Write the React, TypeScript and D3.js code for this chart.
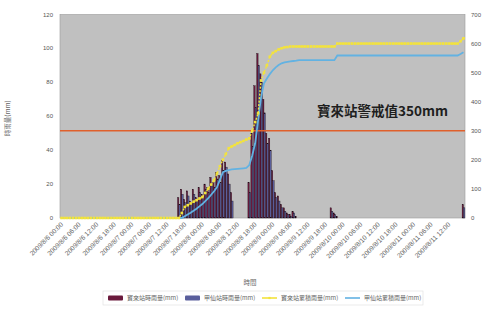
import React from "react";
import * as d3 from "d3";

const W = 487;
const H = 310;

// hourly categories (index of hour from 2009/8/6 00:00)
const hours: number[] = d3.range(138);

const tickLabels: string[] = [
  "2009/8/6 00:00", "2009/8/6 06:00", "2009/8/6 12:00", "2009/8/6 18:00",
  "2009/8/7 00:00", "2009/8/7 06:00", "2009/8/7 12:00", "2009/8/7 18:00",
  "2009/8/8 00:00", "2009/8/8 06:00", "2009/8/8 12:00", "2009/8/8 18:00",
  "2009/8/9 00:00", "2009/8/9 06:00", "2009/8/9 12:00", "2009/8/9 18:00",
  "2009/8/10 00:00", "2009/8/10 06:00", "2009/8/10 12:00", "2009/8/10 18:00",
  "2009/8/11 00:00", "2009/8/11 06:00", "2009/8/11 12:00",
];

const leftTicks = [0, 20, 40, 60, 80, 100, 120];
const rightTicks = [0, 100, 200, 300, 400, 500, 600, 700];

const seriesNames = ["寶來站時雨量(mm)", "甲仙站時雨量(mm)", "寶來站累積雨量(mm)", "甲仙站累積雨量(mm)"];

const rainA: number[] = [
  0, 0, 0, 0, 0, 0, 0, 0, 0, 0,
  0, 0, 0, 0, 0, 0, 0, 0, 0, 0,
  0, 0, 0, 0, 0, 0, 0, 0, 0, 0,
  0, 0, 0, 0, 0, 0, 0, 0, 0, 0,
  12, 17, 11, 16, 10, 17, 12, 18, 14, 20,
  18, 24, 21, 27, 25, 34, 33, 26, 15, 0,
  0, 0, 0, 0, 21, 50, 78, 97, 85, 70,
  50, 47, 28, 15, 13, 8, 6, 3, 2, 4,
  1, 0, 0, 0, 0, 0, 0, 0, 0, 0,
  0, 0, 6, 3, 1, 0, 0, 0, 0, 0,
  0, 0, 0, 0, 0, 0, 0, 0, 0, 0,
  0, 0, 0, 0, 0, 0, 0, 0, 0, 0,
  0, 0, 0, 0, 0, 0, 0, 0, 0, 0,
  0, 0, 0, 0, 0, 0, 0, 8,
];

const rainB: number[] = [
  0, 0, 0, 0, 0, 0, 0, 0, 0, 0,
  0, 0, 0, 0, 0, 0, 0, 0, 0, 0,
  0, 0, 0, 0, 0, 0, 0, 0, 0, 0,
  0, 0, 0, 0, 0, 0, 0, 0, 0, 0,
  8, 14, 9, 13, 9, 14, 10, 15, 12, 17,
  15, 20, 18, 23, 21, 28, 30, 20, 10, 0,
  0, 0, 0, 0, 15, 42, 65, 90, 80, 62,
  44, 40, 22, 12, 10, 6, 4, 2, 1, 3,
  0, 0, 0, 0, 0, 0, 0, 0, 0, 0,
  0, 0, 4, 2, 0, 0, 0, 0, 0, 0,
  0, 0, 0, 0, 0, 0, 0, 0, 0, 0,
  0, 0, 0, 0, 0, 0, 0, 0, 0, 0,
  0, 0, 0, 0, 0, 0, 0, 0, 0, 0,
  0, 0, 0, 0, 0, 0, 0, 6,
];

const cumA: number[] = [
  0, 0, 0, 0, 0, 0, 0, 0, 0, 0,
  0, 0, 0, 0, 0, 0, 0, 0, 0, 0,
  0, 0, 0, 0, 0, 0, 0, 0, 0, 0,
  0, 0, 0, 0, 0, 0, 0, 0, 0, 0,
  0, 17, 38, 44, 50, 56, 61, 67, 72, 86,
  101, 115, 130, 153, 178, 200, 220, 240, 246, 251,
  257, 261, 265, 270, 274, 300, 330, 360, 473, 500,
  525, 555, 568, 574, 580, 584, 587, 588, 590, 590,
  590, 590, 590, 590, 590, 590, 590, 590, 590, 590,
  590, 590, 590, 590, 600, 600, 600, 600, 600, 600,
  600, 600, 600, 600, 600, 600, 600, 600, 600, 600,
  600, 600, 600, 600, 600, 600, 600, 600, 600, 600,
  600, 600, 600, 600, 600, 600, 600, 600, 600, 600,
  600, 600, 600, 600, 600, 600, 608, 618,
];

const cumB: number[] = [
  0, 0, 0, 0, 0, 0, 0, 0, 0, 0,
  0, 0, 0, 0, 0, 0, 0, 0, 0, 0,
  0, 0, 0, 0, 0, 0, 0, 0, 0, 0,
  0, 0, 0, 0, 0, 0, 0, 0, 0, 0,
  0, 0, 6, 12, 18, 25, 32, 40, 48, 58,
  68, 80, 92, 106, 132, 158, 162, 165, 167, 168,
  169, 170, 171, 172, 182, 215, 257, 336, 415, 463,
  480, 495, 508, 518, 526, 532, 535, 537, 539, 540,
  541, 543, 543, 543, 543, 543, 543, 543, 543, 543,
  543, 543, 543, 543, 559, 559, 559, 559, 559, 559,
  559, 559, 559, 559, 559, 559, 559, 559, 559, 559,
  559, 559, 559, 559, 559, 559, 559, 559, 559, 559,
  559, 559, 559, 559, 559, 559, 559, 559, 559, 559,
  559, 559, 559, 559, 559, 559, 564, 570,
];

const warningValue = 300; // drawn on right axis
const warningLabel = "寶來站警戒值350mm";

const colA = "#6a1a3c";
const colB = "#5a5f9c";
const colYellow = "#f3e33c";
const colBlue = "#62b2e2";
const colWarn = "#e0602c";

const PL = 60, PR = 465, PT = 14.5, PB = 218;

export default function App() {
  const x = d3.scaleBand<number>().domain(hours).range([PL, PR]).paddingInner(0.05).paddingOuter(0.04);
  const yL = d3.scaleLinear().domain([0, 120]).range([PB, PT]);
  const yR = d3.scaleLinear().domain([0, 700]).range([PB, PT]);
  const bw = x.bandwidth() / 2;
  const cx = (i: number) => (x(i) as number) + x.bandwidth() / 2;

  const lineA = d3.line<number>().x((_, i) => cx(i)).y((d) => yR(d));
  const lineB = d3.line<number>().x((_, i) => cx(i)).y((d) => yR(d));

  const tickFont = "'Liberation Sans', Arial, sans-serif";
  const cjkFont = "'Noto Sans CJK TC', 'Noto Sans', sans-serif";

  const legendY = 298;
  const legendItems = [
    { x: 108, type: "rect", color: colA },
    { x: 185, type: "rect", color: colB },
    { x: 262, type: "line", color: colYellow },
    { x: 345, type: "line", color: colBlue },
  ];

  return (
    <svg width={W} height={H} style={{ position: "absolute", left: 0, top: 0, background: "#fff" }}>
      <rect x={PL} y={PT} width={PR - PL} height={PB - PT} fill="#c0c0c0" stroke="#9a9a9a" strokeWidth={0.6} />

      {/* bars */}
      {rainA.map((v, i) =>
        v > 0 ? <rect key={"a" + i} x={x(i)} y={yL(v)} width={bw} height={yL(0) - yL(v)} fill={colA} stroke="#1a0a14" strokeWidth={0.35} /> : null
      )}
      {rainB.map((v, i) =>
        v > 0 ? <rect key={"b" + i} x={(x(i) as number) + bw} y={yL(v)} width={bw} height={yL(0) - yL(v)} fill={colB} stroke="#1a0a14" strokeWidth={0.35} /> : null
      )}

      {/* warning line */}
      <line x1={PL} x2={PR} y1={yR(warningValue)} y2={yR(warningValue)} stroke={colWarn} strokeWidth={1.4} />
      <text x={317} y={116} fontFamily={cjkFont} fontSize={13.5} fontWeight={700} fill="#1e1e1e">{warningLabel}</text>

      {/* cumulative lines */}
      <path d={lineB(cumB) || ""} fill="none" stroke={colBlue} strokeWidth={1.8} />
      <path d={lineA(cumA) || ""} fill="none" stroke={colYellow} strokeWidth={1.4} strokeDasharray="2,1.5" />
      {cumA.map((v, i) => (
        <rect key={"m" + i} x={cx(i) - 1.3} y={yR(v) - 1.3} width={2.6} height={2.6} fill={colYellow} />
      ))}

      {/* left axis */}
      {leftTicks.map((t) => (
        <text key={"l" + t} x={53} y={yL(t) + 2} textAnchor="end" fontFamily={tickFont} fontSize={6} fill="#555">{t}</text>
      ))}
      <text transform={`translate(10,${(PT + PB) / 2 + 2}) rotate(-90)`} textAnchor="middle" fontFamily={cjkFont} fontSize={6.5} fill="#666">時雨量(mm)</text>

      {/* right axis */}
      {rightTicks.map((t) => (
        <text key={"r" + t} x={471} y={yR(t) + 2} textAnchor="start" fontFamily={tickFont} fontSize={6} fill="#555">{t}</text>
      ))}

      {/* x labels */}
      {tickLabels.map((lab, k) => {
        const px = cx(k * 6);
        return (
          <text key={"x" + k} transform={`translate(${px + 2},${PB + 7}) rotate(-45)`} textAnchor="end" fontFamily={tickFont} fontSize={6.6} fill="#666">{lab}</text>
        );
      })}
      <text x={250} y={285} textAnchor="middle" fontFamily={cjkFont} fontSize={6.5} fill="#666">時間</text>

      {/* legend */}
      <rect x={103} y={291} width={320} height={14} fill="#fff" stroke="#ddd" strokeWidth={0.6} />
      {legendItems.map((it, k) => (
        <g key={"lg" + k}>
          {it.type === "rect" ? (
            <rect x={it.x} y={legendY - 2.5} width={15} height={5} fill={it.color} rx={1} />
          ) : (
            <g>
              <line x1={it.x} x2={it.x + 15} y1={legendY} y2={legendY} stroke={it.color} strokeWidth={1.6} />
              {k === 2 ? <rect x={it.x + 6.4} y={legendY - 1.1} width={2.2} height={2.2} fill={it.color} /> : null}
            </g>
          )}
          <text x={it.x + 19} y={legendY + 2.2} fontFamily={cjkFont} fontSize={6} fill="#666">{seriesNames[k]}</text>
        </g>
      ))}
    </svg>
  );
}
